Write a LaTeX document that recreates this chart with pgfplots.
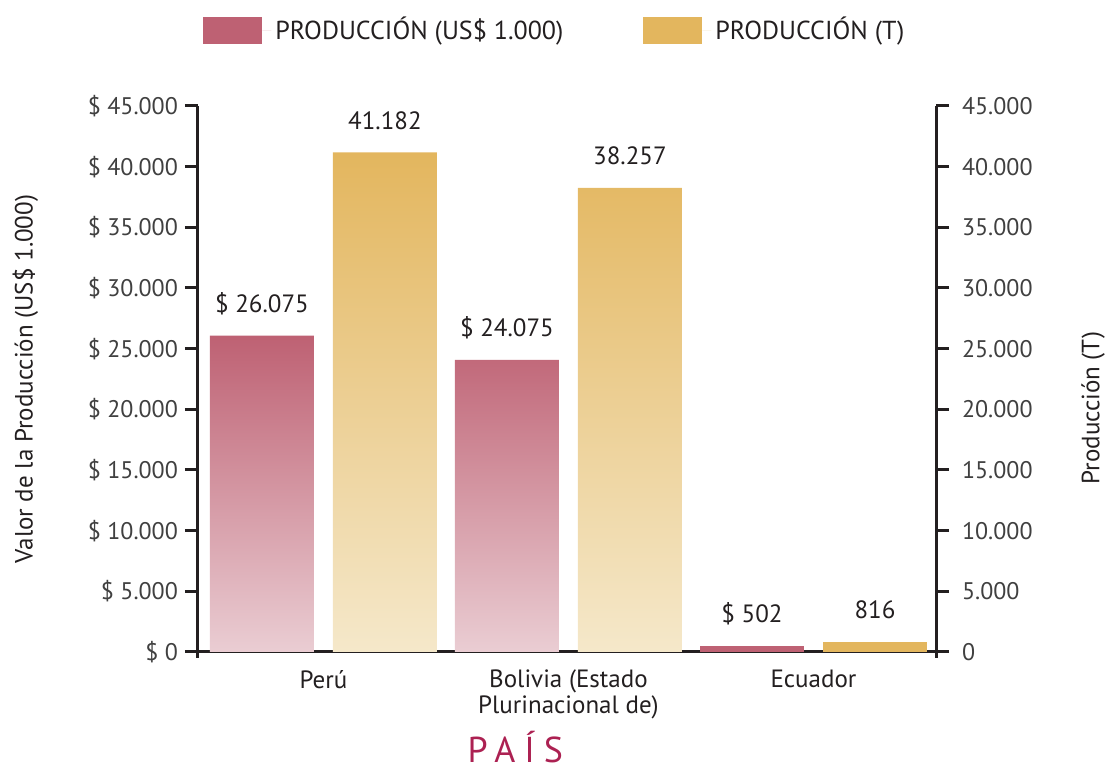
\documentclass[border=0pt]{standalone}
\usepackage{fontspec}
\setmainfont{PT Sans}
\newfontfamily\spaced[LetterSpace=25]{PT Sans}
\usepackage{pgfplots}
\pgfplotsset{compat=1.18}
\definecolor{cRed}{HTML}{BE6173}
\definecolor{cRedL}{HTML}{EACDD3}
\definecolor{cGold}{HTML}{E3B65E}
\definecolor{cGoldL}{HTML}{F5E8CA}
\definecolor{ink}{HTML}{231F20}
\definecolor{tickc}{HTML}{404040}
\definecolor{pais}{HTML}{AC2152}

\pgfplotsset{
  base/.style={
    at={(0,0)}, anchor=south west, scale only axis,
    width=369pt, height=273pt,
    xmin=-0.512, xmax=2.5, ymin=0, ymax=45000,
    ybar, bar width=52pt,
    ytick={0,5000,...,45000},
    scaled y ticks=false,
    tick align=outside, major tick length=6.5pt,
    tick style={ink, line width=1.5pt},
    axis line style={ink, line width=1.5pt},
    /pgf/number format/1000 sep={.},
    /pgf/number format/assume math mode=true,
    yticklabel style={font=\fontsize{12}{14}\selectfont, text=tickc},
    ylabel style={font=\fontsize{12.5}{15}\selectfont, text=ink, anchor=center},
    nodes near coords style={font=\fontsize{12.5}{15}\selectfont, text=ink, anchor=center, yshift=16pt},
    clip=false,
  }
}

\begin{document}
\begin{tikzpicture}
\useasboundingbox (-99pt,-59pt) rectangle (453.5pt,326pt);

% left axis: value of production
\begin{axis}[base,
    axis x line*=bottom, axis y line*=left,
    x axis line style={shorten <=-3pt, shorten >=-3pt},
    y axis line style={shorten <=-3pt},
    xtick={0,1,2},
    xticklabels={Perú, {Bolivia (Estado\\Plurinacional de)}, Ecuador},
    xtick style={draw=none},
    xticklabel style={font=\fontsize{12.5}{13}\selectfont, text=ink, align=center, yshift=1pt},
    yticklabel={\$ \pgfmathprintnumber{\tick}},
    ylabel={Valor de la Producción (US\$ 1.000)},
    ylabel style={at={(axis description cs:-0.234,0.5)}},
    xlabel={\spaced PAÍS},
    xlabel style={at={(axis description cs:0.43,-0.202)}, anchor=base, inner sep=0pt,
        font=\fontsize{18}{20}\selectfont, text=pais},
    bar shift=-30.75pt,
    nodes near coords={\$ \pgfmathprintnumber{\pgfplotspointmeta}},
    legend style={at={(0.485,1.139)}, anchor=center, draw=none, fill=none,
        legend columns=2, font=\fontsize{13}{15}\selectfont, text=ink,
        /tikz/every even column/.append style={column sep=38pt}},
    legend image code/.code={\fill[#1] (0pt,-6.75pt) rectangle (29.5pt,6.75pt);
        \path (29.5pt,0pt) -- (34pt,0pt);},
]
\addplot[forget plot, draw=none, top color=cRed, bottom color=cRedL]
    coordinates {(0,26075) (1,24075)};
\addplot[forget plot, draw=none, fill=cRed]
    coordinates {(2,502)};
\addlegendimage{fill=cRed, draw=none}
\addlegendimage{fill=cGold, draw=none}
\legend{PRODUCCIÓN (US\$ 1.000), PRODUCCIÓN (T)}
\end{axis}

% right axis: production in tonnes
\begin{axis}[base,
    axis x line=none, axis y line*=right,
    y axis line style={shorten <=-3pt},
    yticklabel style={xshift=3pt},
    ylabel={Producción (T)},
    ylabel style={at={(axis description cs:1.213,0.447)}},
    bar shift=30.75pt,
    nodes near coords,
]
\addplot[draw=none, top color=cGold, bottom color=cGoldL]
    coordinates {(0,41182) (1,38257)};
\addplot[draw=none, fill=cGold]
    coordinates {(2,816)};
\end{axis}
\end{tikzpicture}
\end{document}
